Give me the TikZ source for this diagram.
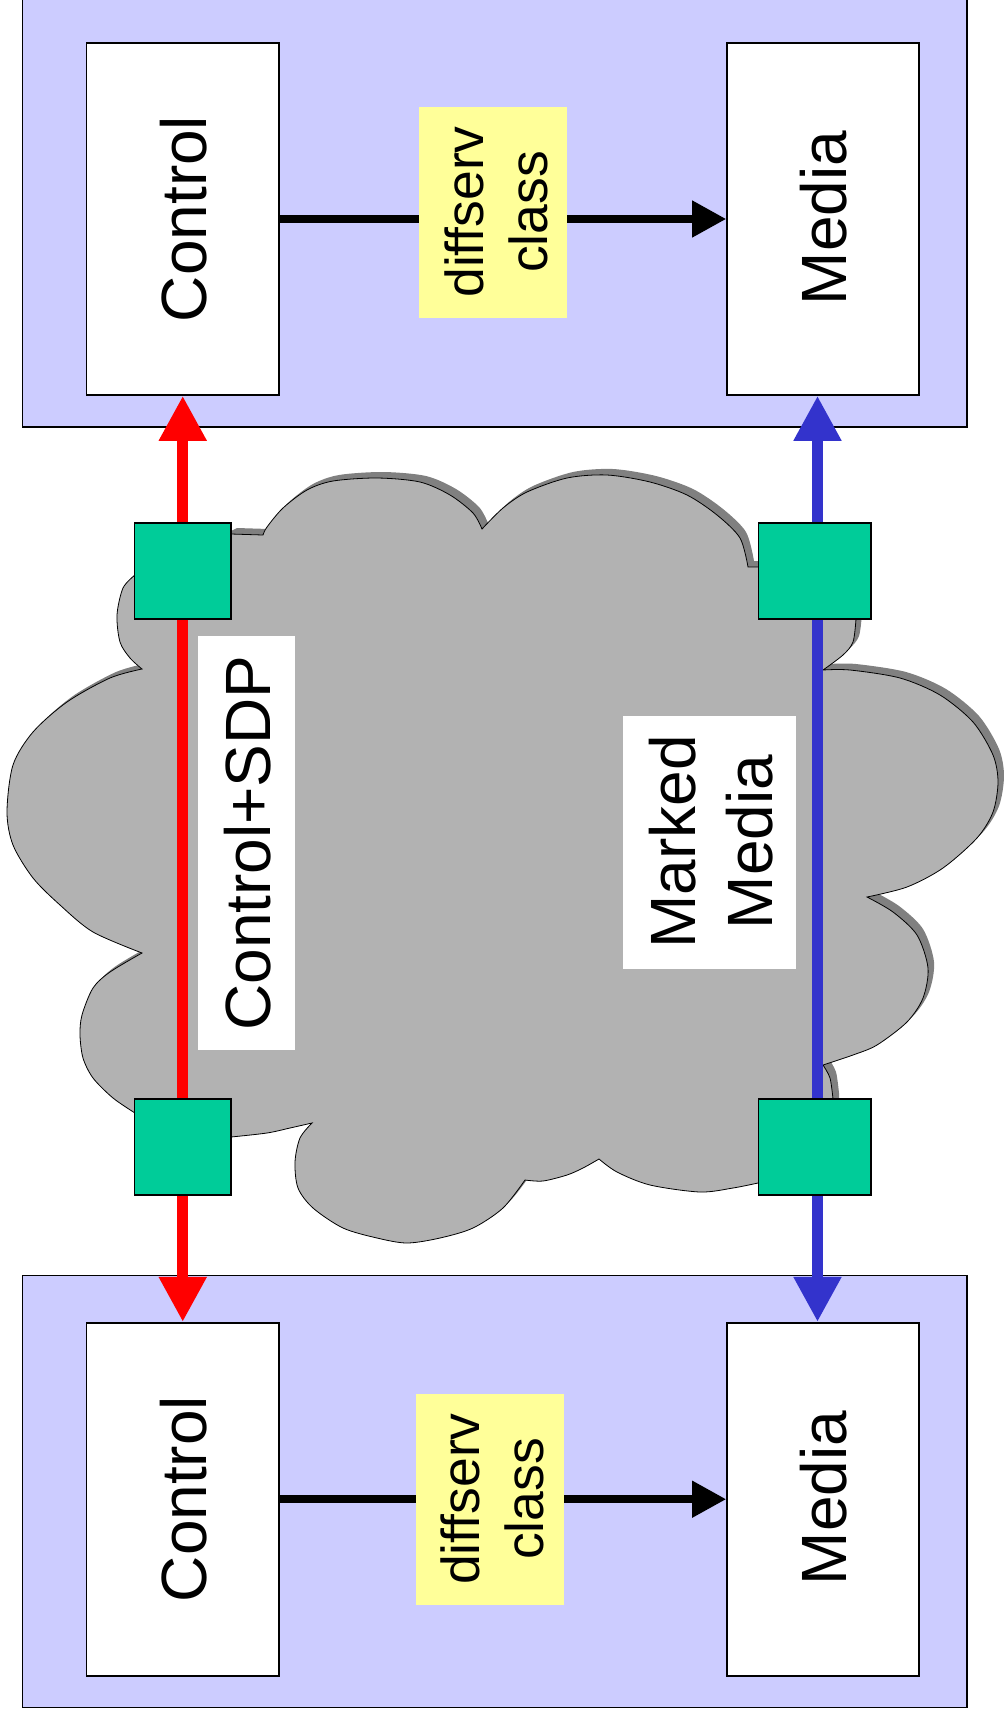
\documentclass[tikz,border=0pt]{standalone}
\usepackage{fontspec}
\setmainfont{Liberation Sans}
\usetikzlibrary{arrows.meta}
\definecolor{lav}{HTML}{CCCCFF}
\definecolor{yel}{HTML}{FFFF99}
\definecolor{grn}{HTML}{00CC99}
\definecolor{cloudfill}{HTML}{B2B2B2}
\definecolor{cloudshadow}{HTML}{808080}
\definecolor{mblue}{HTML}{3333CC}
\definecolor{mred}{HTML}{FF0000}
\def\cloudpath{(263,535)
 -- plot[smooth] coordinates {(263,535) (267,527) (283,508) (307,490) (333,481) (377,478) (420,482) (450,495) (473,513) (482,529)}
 -- plot[smooth] coordinates {(482,529) (503,508) (527,492) (567,478) (607,475) (650,482) (687,495) (717,515) (740,538) (748,567)}
 -- (760,567) -- (856,619)
 -- plot[smooth] coordinates {(856,619) (853,642) (843,655) (823,670)}
 -- plot[smooth] coordinates {(823,670) (850,670) (900,678) (940,695) (973,722) (993,755) (998,782) (993,812) (977,838) (943,868) (907,887) (867,897)}
 -- plot[smooth] coordinates {(867,897) (893,912) (917,935) (928,968) (923,998) (907,1022) (877,1045) (853,1055) (823,1065)}
 -- plot[smooth] coordinates {(823,1065) (830,1078) (833,1099)}
 -- (833,1150) -- (758,1183)
 -- plot[smooth] coordinates {(758,1183) (733,1188) (700,1192) (650,1185) (617,1172) (599,1159)}
 -- plot[smooth] coordinates {(599,1159) (583,1168) (567,1175) (543,1181) (525,1180)}
 -- plot[smooth] coordinates {(525,1180) (503,1208) (473,1228) (440,1238) (407,1243) (377,1238) (343,1228) (313,1208) (298,1188) (295,1162) (300,1138) (312,1123)}
 -- plot[smooth] coordinates {(312,1123) (290,1128) (267,1133) (231,1137)}
 -- (180,1150) -- (135,1113)
 -- plot[smooth] coordinates {(135,1113) (113,1098) (93,1078) (83,1058) (80,1035) (82,1015) (93,988) (110,972) (142,953)}
 -- plot[smooth] coordinates {(142,953) (93,932) (60,905) (33,878) (13,845) (7,812) (13,765) (33,732) (67,702) (110,678) (142,669)}
 -- plot[smooth] coordinates {(142,669) (130,658) (120,642) (117,615) (123,588) (135,575)}
 -- (180,560) -- (231,534) -- (263,535) -- cycle}
\begin{document}
\begin{tikzpicture}[x=1pt,y=-1pt,
  outerbox/.style={draw=black, line width=1.6pt, fill=lav, inner sep=0pt},
  wbox/.style={draw=black, line width=1.6pt, fill=white, inner sep=0pt},
  ybox/.style={fill=yel, inner sep=0pt},
  labbox/.style={fill=white, inner sep=0pt},
  gbox/.style={draw=black, line width=1.6pt, fill=grn, inner sep=0pt},
  bigtxt/.style={rotate=90, font=\fontsize{64}{77}\selectfont, inner sep=0pt, align=center},
  smalltxt/.style={rotate=90, font=\fontsize{53.5}{64}\selectfont, inner sep=0pt, align=center},
  blkarrow/.style={line width=7.5pt, -{Triangle[length=34pt,width=35pt]}},
  redarrow/.style={draw=mred, line width=11pt, {Triangle[length=45pt,width=45pt]}-{Triangle[length=45pt,width=45pt]}},
  bluearrow/.style={draw=mblue, line width=11pt, {Triangle[length=45pt,width=45pt]}-{Triangle[length=45pt,width=45pt]}}
]
\useasboundingbox (0,0) rectangle (1004,1717);

% top host
\node[outerbox, minimum width=944.5pt, minimum height=431pt] (o1) at (494.75,211.5) {};
\node[wbox, minimum width=192.5pt, minimum height=352pt] (c1) at (182.75,219) {};
\node[wbox, minimum width=192pt, minimum height=352pt] (m1) at (823,219) {};
\draw[blkarrow] (c1.east) -- (m1.west);
\node[ybox, minimum width=148pt, minimum height=211pt] (y1) at (493,212.5) {};
\node[bigtxt] (c1t) at (184,219) {Control};
\node[bigtxt] (m1t) at (824,218) {Media};
\node[smalltxt] (y1t) at (496,212) {diffserv\\class};

% bottom host
\node[outerbox, minimum width=944.5pt, minimum height=431.7pt] (o2) at (494.75,1491.45) {};
\node[wbox, minimum width=192.5pt, minimum height=353pt] (c2) at (182.75,1499.2) {};
\node[wbox, minimum width=192pt, minimum height=353pt] (m2) at (823,1499.2) {};
\draw[blkarrow] (c2.east) -- (m2.west);
\node[ybox, minimum width=148pt, minimum height=210.7pt] (y2) at (490,1499.35) {};
\node[bigtxt] (c2t) at (184,1499) {Control};
\node[bigtxt] (m2t) at (824,1498) {Media};
\node[smalltxt] (y2t) at (492,1499) {diffserv\\class};

% cloud
\fill[cloudshadow, shift={(6,-6)}] \cloudpath;
\filldraw[fill=cloudfill, draw=black, line width=0.8pt] \cloudpath;

% labels in the cloud
\node[labbox, minimum width=96.5pt, minimum height=414pt] (sdp) at (246.25,843) {};
\node[bigtxt] (sdpt) at (248,843) {Control+SDP};
\node[labbox, minimum width=172.7pt, minimum height=253pt] (mm) at (709.65,842.5) {};
\node[bigtxt] (mmt) at (710.8,842) {Marked\\Media};

% signalling and media paths
\coordinate (bx) at (817.5,0);
\draw[redarrow] (c1.south) -- (c2.north);
\draw[bluearrow] (m1.south -| bx) -- (m2.north -| bx);

% edge devices
\node[gbox, minimum width=96.4pt, minimum height=96.3pt] (g1) at (182.5,571) {};
\node[gbox, minimum width=112.7pt, minimum height=96.3pt] (g2) at (814.7,571) {};
\node[gbox, minimum width=96.4pt, minimum height=96.3pt] (g3) at (182.5,1147) {};
\node[gbox, minimum width=112.7pt, minimum height=96.3pt] (g4) at (814.7,1147) {};
\end{tikzpicture}
\end{document}
